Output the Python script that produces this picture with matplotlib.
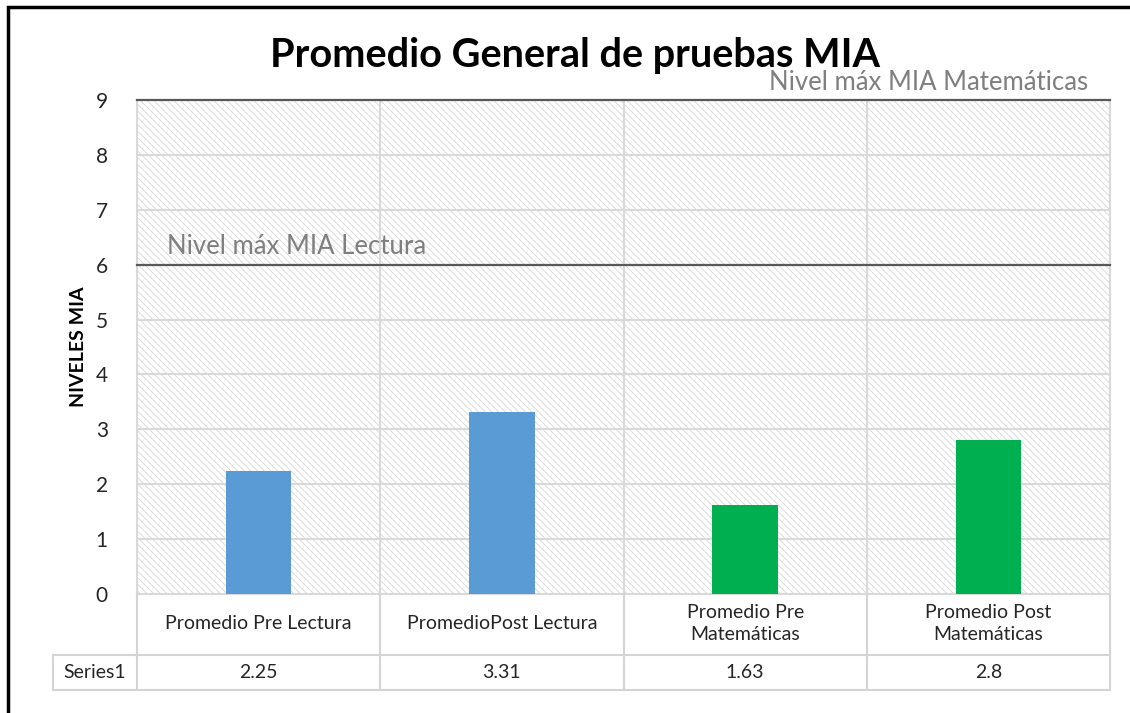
import matplotlib
matplotlib.use("Agg")
import matplotlib.pyplot as plt
from matplotlib.patches import Rectangle
from matplotlib.lines import Line2D

plt.rcParams['font.family'] = ['Lato', 'DejaVu Sans']
plt.rcParams['hatch.linewidth'] = 0.6

categories = ["Promedio Pre Lectura", "PromedioPost Lectura",
              "Promedio Pre\nMatemáticas", "Promedio Post\nMatemáticas"]
values = [2.25, 3.31, 1.63, 2.8]
series_name = "Series1"
bar_colors = ["#5B9BD5", "#5B9BD5", "#00B050", "#00B050"]
ref_levels = [6, 9]
ref_labels = ["Nivel máx MIA Lectura", "Nivel máx MIA Matemáticas"]
title = "Promedio General de pruebas MIA"
ylabel = "NIVELES MIA"

W, H = 1130, 713
fig = plt.figure(figsize=(W / 100, H / 100), dpi=100)
fig.patch.set_facecolor("white")

def fx(x):
    return x / W

def fy(y):
    return 1 - y / H

L, R, T, B = 137, 1110, 100, 594
ax = fig.add_axes([fx(L), fy(B), fx(R) - fx(L), fy(T) - fy(B)])
ax.set_xlim(-0.5, len(categories) - 0.5)
ax.set_ylim(0, 9)
ax.set_facecolor("white")

# hatched plot area
ax.add_patch(Rectangle((0, 0), 1, 1, transform=ax.transAxes, facecolor="white",
                       edgecolor="#d6d6d6", hatch="\\\\\\\\\\", linewidth=0, zorder=0))

grid_c = "#d9d9d9"
for yv in range(1, 9):
    ax.axhline(yv, color=grid_c, lw=1.5, zorder=1)
for xv in [i + 0.5 for i in range(len(categories) - 1)]:
    ax.axvline(xv, color=grid_c, lw=1.5, zorder=1)

ax.bar(range(len(values)), values, width=0.27, color=bar_colors, zorder=3)

for lvl in ref_levels:
    ax.axhline(lvl, color="#595959", lw=1.6, zorder=4, clip_on=False)

ax.text(-0.5 + 30 / 243.25, 6.1, ref_labels[0], fontsize=18.5, color="#7f7f7f",
        ha="left", va="bottom", zorder=5)
ax.text(3.41, 9.1, ref_labels[1], fontsize=18.5, color="#7f7f7f",
        ha="right", va="bottom", zorder=5, clip_on=False)

for s in ["left", "right", "bottom"]:
    ax.spines[s].set_color(grid_c)
    ax.spines[s].set_linewidth(1.5)
ax.spines["top"].set_visible(False)

ax.set_yticks(range(0, 10))
ax.set_yticklabels([str(v) for v in range(0, 10)], fontsize=15, color="#262626")
ax.tick_params(axis="y", length=0, pad=21)
ax.set_xticks([])

fig.text(fx(78), fy(347), ylabel, rotation=90, ha="center", va="center",
         fontsize=14, fontweight="bold", color="black")
fig.text(fx(575), fy(56), title, ha="center", va="center",
         fontsize=28.5, fontweight="bold", color="black")

# data table below the axis
row1_bot, row2_bot = 655, 690
col_edges = [L + i * (R - L) / len(categories) for i in range(len(categories) + 1)]
tc = "#d4d4d4"
lines = []
lines.append(((53, row1_bot), (R, row1_bot)))
lines.append(((53, row2_bot), (R, row2_bot)))
lines.append(((53, row1_bot), (53, row2_bot)))
for xe in col_edges:
    lines.append(((xe, B), (xe, row2_bot)))
for (x0, y0), (x1, y1) in lines:
    fig.add_artist(Line2D([fx(x0), fx(x1)], [fy(y0), fy(y1)], color=tc, lw=1.5,
                          transform=fig.transFigure))

for i, (cat, v) in enumerate(zip(categories, values)):
    cx = (col_edges[i] + col_edges[i + 1]) / 2
    fig.text(fx(cx), fy((B + row1_bot) / 2 - 1), cat, ha="center", va="center",
             fontsize=14, color="#262626", linespacing=1.35)
    fig.text(fx(cx), fy((row1_bot + row2_bot) / 2), f"{v:g}", ha="center", va="center",
             fontsize=14, color="#262626")
fig.text(fx(95), fy((row1_bot + row2_bot) / 2), series_name, ha="center", va="center",
         fontsize=14, color="#262626")

# outer chart frame
fig.add_artist(Rectangle((fx(8), fy(800)), fx(1200), fy(7) - fy(800),
                         transform=fig.transFigure, fill=False, edgecolor="black", lw=2.5))

fig.savefig("out.png", dpi=100, facecolor="white")
